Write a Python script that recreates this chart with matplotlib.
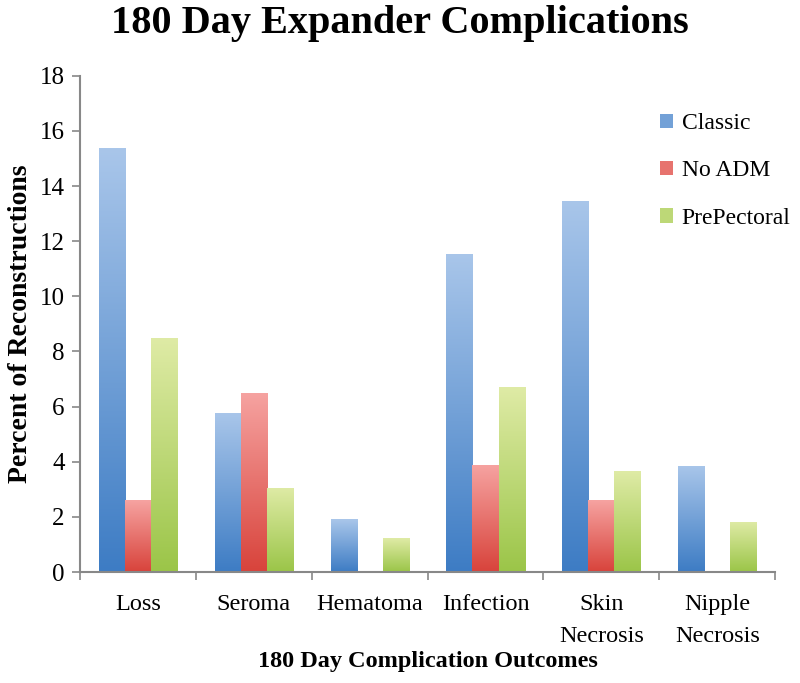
import matplotlib
matplotlib.use("Agg")
import matplotlib.pyplot as plt
import numpy as np
from matplotlib.colors import LinearSegmentedColormap

categories = ["Loss", "Seroma", "Hematoma", "Infection", "Skin\nNecrosis", "Nipple\nNecrosis"]
series_names = ["Classic", "No ADM", "PrePectoral"]
classic = [15.38, 5.77, 1.92, 11.54, 13.46, 3.85]
no_adm = [2.6, 6.5, 0, 3.9, 2.6, 0]
prepectoral = [8.5, 3.05, 1.22, 6.71, 3.66, 1.83]

# (top colour, bottom colour) for the gradient fill
grads = [("#a9c6ea", "#3d7cc4"), ("#f6a3a1", "#d8433b"), ("#dfeba6", "#9bc548")]

plt.rcParams["font.family"] = ["Liberation Serif", "DejaVu Serif"]

fig = plt.figure(figsize=(8, 6.83), dpi=100)
ax = fig.add_axes([0.1, 0.1625, 0.869, 0.7265])

x = np.arange(len(categories))
w = 0.225
offsets = [-w, 0, w]
grad = np.linspace(0, 1, 256).reshape(-1, 1)

for vals, name, off, (top, bot) in zip([classic, no_adm, prepectoral], series_names, offsets, grads):
    cmap = LinearSegmentedColormap.from_list(name, [bot, top])
    bars = ax.bar(x + off, vals, w, color=cmap(0.5), label=name, edgecolor="none")
    for b in bars:
        if b.get_height() <= 0:
            continue
        bx, by = b.get_x(), b.get_y()
        bw, bh = b.get_width(), b.get_height()
        im = ax.imshow(grad, cmap=cmap, origin="lower", aspect="auto",
                       extent=[bx, bx + bw, by, by + bh], zorder=b.get_zorder())
        im.set_clip_path(b)

ax.set_xlim(-0.5, len(categories) - 0.5)
ax.set_ylim(0, 18)
ax.set_yticks(np.arange(0, 19, 2))
ax.set_xticks(x)
ax.set_xticklabels(categories, fontsize=17.5, linespacing=1.65)
ax.set_xticks(np.arange(-0.5, len(categories)), minor=True)
ax.tick_params(axis="x", which="major", length=0, pad=16)
ax.tick_params(axis="x", which="minor", length=6, color="#888888", width=1.2)
ax.tick_params(axis="y", length=6, color="#888888", width=1.2, labelsize=18, pad=5)

for s in ["top", "right"]:
    ax.spines[s].set_visible(False)
for s in ["left", "bottom"]:
    ax.spines[s].set_color("#888888")
    ax.spines[s].set_linewidth(1.5)

fig.text(0.5, 1 - 23 / 683, "180 Day Expander Complications", fontsize=29,
         fontweight="bold", ha="center", va="center")
ax.set_ylabel("Percent of Reconstructions", fontsize=20, fontweight="bold", labelpad=5)
ax.set_xlabel("180 Day Complication Outcomes", fontsize=17.5, fontweight="bold", labelpad=3)

ax.legend(loc="upper left", bbox_to_anchor=(0.835, 0.925), frameon=False, fontsize=17,
          handlelength=0.55, handleheight=0.55, handletextpad=0.35, labelspacing=1.12,
          borderpad=0, borderaxespad=0)

fig.savefig("out.png", dpi=100)
